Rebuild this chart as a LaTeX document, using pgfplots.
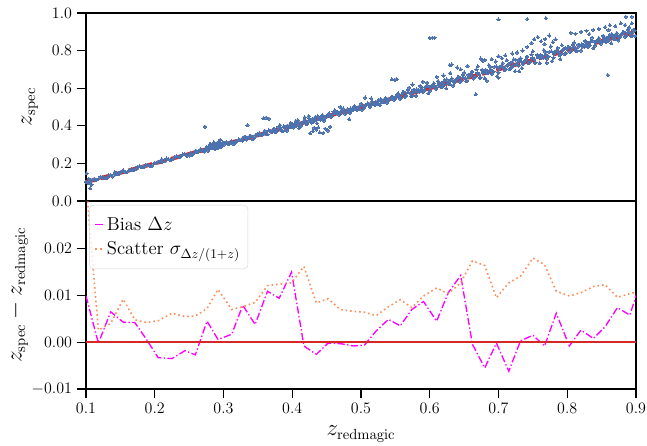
\documentclass[border=0pt]{standalone}
\usepackage{pgfplots}
\pgfplotsset{compat=1.18}
\definecolor{ptblue}{HTML}{4C72B0}
\definecolor{lred}{HTML}{D62728}
\definecolor{sorange}{HTML}{FC8D59}
\definecolor{magen}{HTML}{FF00FF}
\begin{document}
\begin{tikzpicture}
\pgfplotsset{
 every axis/.append style={
  scale only axis, width=412.5pt, height=141pt,
  xmin=0.1, xmax=0.9,
  axis line style={line width=0.9pt},
  tick style={line width=0.9pt, black},
  major tick length=7pt,
  tick align=outside,
  xtick pos=bottom, ytick pos=left,
  tick label style={font=\fontsize{12}{14}\selectfont},
  label style={font=\fontsize{16}{19}\selectfont},
 },
}
\begin{axis}[name=top, ymin=0, ymax=1, ytick={0,0.2,0.4,0.6,0.8,1.0}, xtick=\empty,
 yticklabel style={/pgf/number format/.cd, fixed, fixed zerofill, precision=1},
 ylabel={$z_{\mathrm{spec}}$}, ylabel style={at={(axis description cs:-0.102,0.5)}, anchor=center}]
\addplot[ptblue, only marks, mark=*, mark size=1.2pt, mark options={solid, draw=ptblue, fill=ptblue, line width=0pt}] coordinates {
(0.100,0.102)(0.106,0.102)(0.112,0.118)(0.118,0.117)(0.124,0.128)(0.130,0.122)(0.136,0.137)(0.142,0.146)(0.148,0.146)(0.154,0.163)(0.160,0.154)(0.166,0.168)(0.172,0.170)(0.178,0.185)(0.184,0.180)(0.190,0.193)(0.196,0.187)(0.202,0.203)(0.208,0.213)(0.214,0.211)(0.220,0.222)(0.226,0.222)(0.232,0.238)(0.238,0.237)(0.244,0.248)(0.250,0.242)
(0.103,0.097)(0.109,0.111)(0.115,0.113)(0.121,0.128)(0.127,0.122)(0.133,0.136)(0.139,0.130)(0.145,0.146)(0.151,0.156)(0.157,0.154)(0.163,0.164)(0.169,0.165)(0.175,0.181)(0.181,0.180)(0.187,0.190)(0.193,0.186)(0.199,0.200)(0.205,0.209)(0.211,0.208)(0.217,0.226)(0.223,0.217)(0.229,0.231)(0.235,0.233)(0.241,0.248)(0.247,0.242)
(0.106,0.067)(0.101,0.147)(0.104,0.118)(0.108,0.088)(0.142,0.154)(0.210,0.222)
(0.252,0.254)(0.256,0.251)(0.260,0.267)(0.264,0.263)(0.268,0.272)(0.272,0.263)(0.276,0.277)(0.280,0.285)(0.284,0.281)(0.288,0.299)(0.292,0.285)(0.296,0.298)(0.300,0.298)(0.304,0.312)(0.308,0.303)(0.312,0.316)(0.316,0.305)(0.320,0.321)
(0.254,0.247)(0.258,0.260)(0.262,0.260)(0.266,0.274)(0.270,0.265)(0.274,0.278)(0.278,0.267)(0.282,0.283)(0.286,0.292)(0.290,0.286)(0.294,0.296)(0.298,0.293)(0.302,0.309)(0.306,0.305)(0.310,0.314)(0.314,0.305)(0.318,0.319)(0.322,0.327)
(0.276,0.288)(0.279,0.277)(0.281,0.303)(0.283,0.289)(0.285,0.301)(0.287,0.277)(0.289,0.298)(0.291,0.310)(0.293,0.295)(0.295,0.325)(0.297,0.292)(0.299,0.312)(0.280,0.300)(0.284,0.296)(0.288,0.305)(0.290,0.280)(0.292,0.302)(0.294,0.316)(0.296,0.287)(0.298,0.308)(0.286,0.312)(0.282,0.294)(0.273,0.395)
(0.324,0.326)(0.328,0.322)(0.332,0.342)(0.336,0.334)(0.340,0.346)(0.344,0.332)(0.348,0.349)(0.352,0.359)(0.356,0.352)(0.360,0.374)(0.364,0.355)(0.368,0.371)
(0.326,0.324)(0.330,0.341)(0.334,0.327)(0.338,0.343)(0.342,0.328)(0.346,0.348)(0.350,0.358)(0.354,0.349)(0.358,0.360)(0.362,0.356)(0.366,0.376)(0.370,0.368)
(0.358,0.440)(0.362,0.443)(0.366,0.438)(0.335,0.404)
(0.372,0.376)(0.376,0.366)(0.380,0.394)(0.384,0.382)(0.388,0.396)(0.392,0.374)(0.396,0.397)(0.400,0.411)(0.404,0.398)(0.408,0.430)(0.412,0.399)(0.416,0.421)(0.420,0.416)(0.424,0.441)(0.428,0.417)(0.432,0.439)(0.436,0.414)(0.440,0.442)(0.444,0.456)(0.448,0.441)(0.452,0.456)(0.456,0.446)(0.460,0.474)
(0.374,0.385)(0.378,0.372)(0.382,0.404)(0.386,0.373)(0.390,0.395)(0.394,0.390)(0.398,0.415)(0.402,0.391)(0.406,0.413)(0.410,0.388)(0.414,0.416)(0.418,0.430)(0.422,0.415)(0.426,0.430)(0.430,0.420)(0.434,0.448)(0.438,0.436)(0.442,0.450)(0.446,0.428)(0.450,0.451)(0.454,0.465)(0.458,0.452)(0.462,0.484)
(0.373,0.384)(0.377,0.370)(0.381,0.386)(0.385,0.371)(0.389,0.391)(0.393,0.401)(0.397,0.392)(0.401,0.403)(0.405,0.399)(0.409,0.419)(0.413,0.411)(0.417,0.423)(0.421,0.409)(0.425,0.426)(0.429,0.436)(0.433,0.429)(0.437,0.451)(0.441,0.432)(0.445,0.448)(0.449,0.447)(0.453,0.464)(0.457,0.450)(0.461,0.466)
(0.426,0.360)(0.430,0.372)(0.435,0.380)(0.440,0.365)(0.445,0.362)(0.448,0.385)(0.452,0.375)(0.438,0.392)(0.455,0.395)(0.432,0.390)(0.418,0.445)(0.424,0.452)(0.405,0.425)
(0.464,0.467)(0.468,0.460)(0.472,0.484)(0.476,0.474)(0.480,0.487)(0.484,0.469)(0.488,0.489)(0.492,0.501)(0.496,0.491)(0.500,0.518)(0.504,0.493)(0.508,0.512)(0.512,0.509)(0.516,0.530)(0.520,0.511)(0.524,0.530)(0.528,0.510)(0.532,0.534)(0.536,0.546)(0.540,0.534)(0.544,0.547)(0.548,0.540)(0.552,0.564)(0.556,0.554)
(0.466,0.475)(0.470,0.465)(0.474,0.492)(0.478,0.467)(0.482,0.486)(0.486,0.483)(0.490,0.504)(0.494,0.485)(0.498,0.504)(0.502,0.484)(0.506,0.508)(0.510,0.520)(0.514,0.508)(0.518,0.521)(0.522,0.514)(0.526,0.538)(0.530,0.528)(0.534,0.541)(0.538,0.523)(0.542,0.543)(0.546,0.555)(0.550,0.545)(0.554,0.572)(0.558,0.547)
(0.465,0.475)(0.469,0.463)(0.473,0.477)(0.477,0.464)(0.481,0.482)(0.485,0.492)(0.489,0.485)(0.493,0.495)(0.497,0.491)(0.501,0.509)(0.505,0.504)(0.509,0.514)(0.513,0.502)(0.517,0.518)(0.521,0.527)(0.525,0.521)(0.529,0.542)(0.533,0.525)(0.537,0.540)(0.541,0.539)(0.545,0.555)(0.549,0.543)(0.553,0.557)(0.557,0.544)
(0.545,0.647)(0.549,0.645)(0.552,0.648)(0.506,0.550)(0.483,0.435)(0.470,0.500)(0.515,0.545)
(0.560,0.569)(0.564,0.555)(0.568,0.591)(0.572,0.573)(0.576,0.591)(0.580,0.560)(0.584,0.590)(0.588,0.606)(0.592,0.588)(0.596,0.629)(0.600,0.586)(0.604,0.614)(0.608,0.607)(0.612,0.638)(0.616,0.606)(0.620,0.634)(0.624,0.599)(0.628,0.635)(0.632,0.652)(0.636,0.630)(0.640,0.649)(0.644,0.635)(0.648,0.671)(0.652,0.653)(0.656,0.671)
(0.562,0.580)(0.566,0.562)(0.570,0.603)(0.574,0.560)(0.578,0.588)(0.582,0.581)(0.586,0.612)(0.590,0.580)(0.594,0.608)(0.598,0.573)(0.602,0.609)(0.606,0.626)(0.610,0.604)(0.614,0.623)(0.618,0.609)(0.622,0.645)(0.626,0.627)(0.630,0.645)(0.634,0.614)(0.638,0.644)(0.642,0.660)(0.646,0.642)(0.650,0.683)(0.654,0.640)(0.658,0.668)
(0.561,0.578)(0.565,0.559)(0.569,0.578)(0.573,0.558)(0.577,0.582)(0.581,0.594)(0.585,0.582)(0.589,0.595)(0.593,0.588)(0.597,0.612)(0.601,0.602)(0.605,0.615)(0.609,0.597)(0.613,0.617)(0.617,0.629)(0.621,0.619)(0.625,0.646)(0.629,0.621)(0.633,0.640)(0.637,0.637)(0.641,0.658)(0.645,0.639)(0.649,0.658)(0.653,0.638)(0.657,0.662)
(0.600,0.867)(0.604,0.868)(0.607,0.869)(0.629,0.723)(0.632,0.726)(0.667,0.567)(0.575,0.620)(0.590,0.635)(0.610,0.660)(0.630,0.680)(0.645,0.700)(0.655,0.718)(0.640,0.710)(0.620,0.668)
(0.660,0.673)(0.664,0.652)(0.668,0.700)(0.672,0.674)(0.676,0.697)(0.680,0.653)(0.684,0.692)(0.688,0.714)(0.692,0.687)(0.696,0.742)(0.700,0.682)(0.704,0.719)(0.708,0.707)(0.712,0.749)(0.716,0.702)(0.720,0.739)(0.724,0.690)(0.728,0.738)(0.732,0.760)(0.736,0.729)(0.740,0.753)(0.744,0.732)(0.748,0.780)(0.752,0.754)(0.756,0.777)(0.760,0.733)(0.764,0.772)(0.768,0.794)(0.772,0.767)(0.776,0.822)(0.780,0.762)(0.784,0.799)(0.788,0.787)(0.792,0.829)(0.796,0.782)
(0.662,0.688)(0.666,0.661)(0.670,0.716)(0.674,0.656)(0.678,0.693)(0.682,0.681)(0.686,0.723)(0.690,0.676)(0.694,0.713)(0.698,0.664)(0.702,0.712)(0.706,0.734)(0.710,0.703)(0.714,0.727)(0.718,0.706)(0.722,0.754)(0.726,0.728)(0.730,0.751)(0.734,0.707)(0.738,0.746)(0.742,0.768)(0.746,0.741)(0.750,0.796)(0.754,0.736)(0.758,0.773)(0.762,0.761)(0.766,0.803)(0.770,0.756)(0.774,0.793)(0.778,0.744)(0.782,0.792)(0.786,0.814)(0.790,0.783)(0.794,0.807)(0.798,0.786)
(0.661,0.683)(0.665,0.659)(0.669,0.681)(0.673,0.656)(0.677,0.684)(0.681,0.698)(0.685,0.683)(0.689,0.698)(0.693,0.688)(0.697,0.716)(0.701,0.704)(0.705,0.718)(0.709,0.696)(0.713,0.719)(0.717,0.733)(0.721,0.720)(0.725,0.752)(0.729,0.721)(0.733,0.743)(0.737,0.738)(0.741,0.763)(0.745,0.739)(0.749,0.761)(0.753,0.736)(0.757,0.764)(0.761,0.778)(0.765,0.763)(0.769,0.778)(0.773,0.768)(0.777,0.796)(0.781,0.784)(0.785,0.798)(0.789,0.776)(0.793,0.799)(0.797,0.813)
(0.674,0.758)(0.677,0.745)(0.680,0.750)(0.700,0.770)(0.710,0.775)(0.727,0.790)(0.735,0.800)(0.748,0.840)(0.752,0.860)(0.757,0.872)(0.762,0.850)(0.768,0.862)(0.774,0.880)(0.779,0.845)(0.783,0.860)(0.690,0.755)(0.720,0.785)(0.742,0.820)(0.767,0.835)(0.705,0.760)
(0.683,0.640)(0.700,0.655)(0.730,0.690)(0.770,0.735)(0.790,0.755)
(0.800,0.809)(0.804,0.795)(0.808,0.831)(0.812,0.813)(0.816,0.831)(0.820,0.800)(0.824,0.830)(0.828,0.846)(0.832,0.828)(0.836,0.869)(0.840,0.826)(0.844,0.854)(0.848,0.847)(0.852,0.878)(0.856,0.846)(0.860,0.874)(0.864,0.839)(0.868,0.875)(0.872,0.892)(0.876,0.870)(0.880,0.889)(0.884,0.875)(0.888,0.911)(0.892,0.893)(0.896,0.911)(0.899,0.879)
(0.802,0.820)(0.806,0.802)(0.810,0.843)(0.814,0.800)(0.818,0.828)(0.822,0.821)(0.826,0.852)(0.830,0.820)(0.834,0.848)(0.838,0.813)(0.842,0.849)(0.846,0.866)(0.850,0.844)(0.854,0.863)(0.858,0.849)(0.862,0.885)(0.866,0.867)(0.870,0.885)(0.874,0.854)(0.878,0.884)(0.882,0.900)(0.886,0.882)(0.890,0.923)(0.894,0.880)(0.898,0.908)
(0.801,0.818)(0.805,0.799)(0.809,0.818)(0.813,0.798)(0.817,0.822)(0.821,0.834)(0.825,0.822)(0.829,0.835)(0.833,0.828)(0.837,0.852)(0.841,0.842)(0.845,0.855)(0.849,0.837)(0.853,0.857)(0.857,0.869)(0.861,0.859)(0.865,0.886)(0.869,0.861)(0.873,0.880)(0.877,0.877)(0.881,0.898)(0.885,0.879)(0.889,0.898)(0.893,0.878)(0.897,0.902)
(0.805,0.895)(0.812,0.890)(0.820,0.900)(0.828,0.905)(0.838,0.910)(0.846,0.915)(0.855,0.925)(0.862,0.935)(0.870,0.930)(0.878,0.945)(0.884,0.936)(0.894,0.945)(0.885,0.980)(0.894,0.980)(0.832,0.888)(0.860,0.910)
(0.700,0.966)(0.742,0.968)(0.769,0.973)(0.859,0.670)
};
\addplot[lred, line width=3pt, dash pattern=on 7.5pt off 3.5pt] coordinates {(0.1,0.1) (0.9,0.9)};
\end{axis}
\begin{axis}[name=bot, at={(top.south west)}, anchor=north west,
 ymin=-0.01, ymax=0.0302, ytick={-0.01,0,0.01,0.02}, scaled y ticks=false,
 yticklabel style={/pgf/number format/.cd, fixed, fixed zerofill, precision=2},
 xtick={0.1,0.2,0.3,0.4,0.5,0.6,0.7,0.8,0.9},
 xticklabel style={/pgf/number format/.cd, fixed, fixed zerofill, precision=1},
 xlabel={$z_{\mathrm{redmagic}}$},
 xlabel style={at={(axis description cs:0.5,-0.24)}, anchor=center},
 ylabel={$z_{\mathrm{spec}}-z_{\mathrm{redmagic}}$},
 ylabel style={at={(axis description cs:-0.1236,0.5)}, anchor=center},
 legend cell align=left,
 legend style={at={(0.0055,0.979)}, anchor=north west, draw=black!15, rounded corners=3pt,
   fill=white, fill opacity=0.8, text opacity=1, font=\fontsize{14}{16.5}\selectfont,
   row sep=3pt, inner xsep=4pt, inner ysep=7pt},
 legend image code/.code={\draw[#1] (2pt,0pt) -- (8pt,0pt);},
]
\addplot[magen, line width=1pt, dash pattern=on 5.5pt off 1.8pt on 1pt off 1.8pt] coordinates {
(0.100,0.0099)(0.118,-0.0002)(0.136,0.0065)(0.154,0.0043)(0.171,0.0042)(0.188,0.0006)(0.205,-0.0033)(0.225,-0.0035)(0.244,-0.0018)(0.259,-0.0027)(0.276,0.0045)(0.292,0.0006)(0.312,0.0017)(0.328,0.0079)(0.346,0.0038)(0.364,0.0109)(0.381,0.0094)(0.399,0.0150)(0.417,-0.0008)(0.435,-0.0026)(0.452,-0.0002)(0.470,-0.0003)(0.489,-0.0008)(0.505,-0.0006)(0.522,0.0024)(0.540,0.0049)(0.557,0.0035)(0.574,0.0070)(0.591,0.0087)(0.610,0.0045)(0.627,0.0106)(0.645,0.0143)(0.662,-0.0004)(0.680,-0.0055)(0.697,-0.0002)(0.715,-0.0062)(0.732,0.0003)(0.750,0.0015)(0.767,-0.0008)(0.784,0.0062)(0.803,-0.0008)(0.820,0.0026)(0.838,0.0008)(0.855,0.0033)(0.873,0.0074)(0.891,0.0058)(0.908,0.0135)
};
\addlegendentry{Bias $\Delta z$}
\addplot[sorange, line width=1.2pt, dash pattern=on 1.2pt off 2.2pt] coordinates {
(0.100,0.0340)(0.118,0.0026)(0.136,0.0040)(0.154,0.0092)(0.171,0.0048)(0.188,0.0042)(0.205,0.0046)(0.225,0.0062)(0.244,0.0055)(0.259,0.0056)(0.276,0.0072)(0.292,0.0113)(0.312,0.0070)(0.328,0.0076)(0.346,0.0085)(0.364,0.0121)(0.381,0.0124)(0.399,0.0127)(0.417,0.0162)(0.435,0.0084)(0.452,0.0093)(0.470,0.0070)(0.489,0.0066)(0.505,0.0064)(0.522,0.0057)(0.540,0.0076)(0.557,0.0091)(0.574,0.0074)(0.591,0.0099)(0.610,0.0116)(0.627,0.0104)(0.645,0.0127)(0.662,0.0174)(0.680,0.0164)(0.697,0.0095)(0.715,0.0127)(0.732,0.0141)(0.750,0.0180)(0.767,0.0166)(0.784,0.0109)(0.803,0.0099)(0.820,0.0106)(0.838,0.0119)(0.855,0.0123)(0.873,0.0096)(0.891,0.0104)(0.908,0.0110)
};
\addlegendentry{Scatter $\sigma_{\Delta z/(1+z)}$}
\addplot[lred, line width=1.2pt, forget plot] coordinates {(0.1,0) (0.9,0)};
\end{axis}
\pgfresetboundingbox
\useasboundingbox ([xshift=-64.5pt,yshift=9.75pt]top.north west) rectangle ([xshift=8.25pt,yshift=-42.75pt]bot.south east);
\end{tikzpicture}
\end{document}
